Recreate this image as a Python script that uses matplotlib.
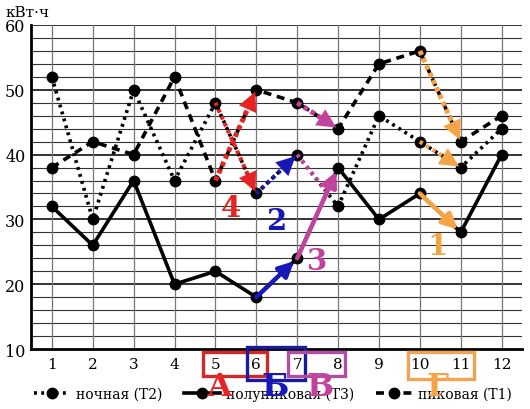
import matplotlib
matplotlib.use("Agg")
import matplotlib.pyplot as plt
from matplotlib.lines import Line2D
from matplotlib.patches import Rectangle

months = list(range(1, 13))
night_T2 = [52, 30, 50, 36, 48, 34, 40, 32, 46, 42, 38, 44]
half_T3 = [32, 26, 36, 20, 22, 18, 24, 38, 30, 34, 28, 40]
peak_T1 = [38, 42, 40, 52, 36, 50, 48, 44, 54, 56, 42, 46]
series_labels = ["ночная (Т2)", "полупиковая (Т3)", "пиковая (Т1)"]
y_ticks = [10, 20, 30, 40, 50, 60]
unit_label = "кВт·ч"

# highlighted segments: (series, start month, colour group)
arrow_segments = [
    ("peak", 5, "red"), ("night", 5, "red"),
    ("night", 6, "blue"), ("half", 6, "blue"),
    ("peak", 7, "magenta"), ("night", 7, "magenta"), ("half", 7, "magenta"),
    ("peak", 10, "orange"), ("night", 10, "orange"), ("half", 10, "orange"),
]
group_numbers = {"orange": "1", "blue": "2", "magenta": "3", "red": "4"}
group_letters = {"red": "А", "blue": "Б", "magenta": "В", "orange": "Г"}

colors = {"red": "#e82323", "blue": "#1818b8", "magenta": "#c2439e", "orange": "#f5a445"}
series = {"night": night_T2, "half": half_T3, "peak": peak_T1}
styles = {"night": (0, (0.8, 1.2)), "half": "-", "peak": (0, (2.2, 1.6))}

plt.rcParams['font.family'] = ['DejaVu Serif']

fig = plt.figure(figsize=(5.3, 4.1), dpi=100)
ax = fig.add_axes([0.0585, 0.1463, 0.9265, 0.7903])
ax.set_xlim(0.49, 12.5)
ax.set_ylim(10, 60)

# grid
for yv in range(12, 61, 2):
    ax.axhline(yv, color="#111111" if yv % 10 == 0 else "#333333",
               lw=1.2 if yv % 10 == 0 else 0.8, zorder=1)
for m in months:
    ax.axvline(m, color="#777777", lw=0.9, zorder=1)

for s in ["right", "top"]:
    ax.spines[s].set_visible(False)
ax.spines["left"].set_linewidth(2)
ax.spines["bottom"].set_linewidth(2)

ax.set_yticks(y_ticks)
ax.set_xticks(months)
ax.tick_params(length=0, labelsize=11.5, pad=4)
ax.tick_params(axis="x", pad=6, labelsize=11)

for key in ["night", "half", "peak"]:
    ax.plot(months, series[key], color="black", lw=2.6, linestyle=styles[key],
            marker="o", markersize=7.5, zorder=3)

# coloured arrows
for key, m, grp in arrow_segments:
    vals = series[key]
    x0, y0 = m, vals[m - 1]
    x1, y1 = m + 1, vals[m]
    c = colors[grp]
    if key == "half":
        ax.annotate("", xy=(x1, y1), xytext=(x0, y0),
                    arrowprops=dict(arrowstyle="-|>,head_length=0.9,head_width=0.45",
                                    color=c, lw=3.2, shrinkA=0, shrinkB=3),
                    zorder=4)
    else:
        # dotted shaft
        fx = x0 + (x1 - x0) * 0.8
        fy = y0 + (y1 - y0) * 0.8
        ax.plot([x0, fx], [y0, fy], color=c, lw=3.6 if key == "peak" else 3.0,
                linestyle=(0, (0.9, 0.7)) if key == "peak" else (0, (0.8, 1.0)), zorder=4)
        show_head = not (key == "night" and m == 7)
        if show_head:
            sx = x0 + (x1 - x0) * 0.55
            sy = y0 + (y1 - y0) * 0.55
            ax.annotate("", xy=(x1, y1), xytext=(sx, sy),
                        arrowprops=dict(arrowstyle="-|>,head_length=0.85,head_width=0.42",
                                        color=c, lw=0.1, shrinkA=0, shrinkB=1.5,
                                        mutation_scale=16),
                        zorder=4)

num_pos = {"4": (5.39, 31.9), "2": (6.49, 29.8), "3": (7.5, 23.6), "1": (10.44, 26.0)}
for grp, num in group_numbers.items():
    x, y = num_pos[num]
    ax.text(x, y, num, color=colors[grp], fontsize=21, fontweight="bold",
            ha="center", va="center", zorder=5)

# boxes under tick labels
box_coords = {
    "red": (4.70, 5.85, 6.27, 9.55, "#d42828"),
    "blue": (5.78, 5.25, 7.20, 10.3, "#1a1a9c"),
    "magenta": (6.78, 5.85, 8.18, 9.55, "#b24ea2"),
    "orange": (9.70, 5.4, 11.32, 9.55, "#f0a452"),
}
for grp, (xa, ya, xb, yb, c) in box_coords.items():
    ax.add_patch(Rectangle((xa, ya), xb - xa, yb - ya, fill=False, edgecolor=c,
                           lw=2.4, clip_on=False, zorder=6))

fig.text(0.01, 0.985, unit_label, fontsize=11, va="top", ha="left")

handles = [Line2D([], [], color="black", lw=2.6, linestyle=styles[k], marker="o", markersize=7.5)
           for k in ["night", "half", "peak"]]
leg = fig.legend(handles, series_labels, loc="center", bbox_to_anchor=(0.515, 0.037), ncol=3,
                 frameon=False, fontsize=10, handlelength=2.6, columnspacing=1.6,
                 handletextpad=0.4, numpoints=1)

letter_x = {"red": 220, "blue": 275, "magenta": 320, "orange": 438}
for grp, letter in group_letters.items():
    t = fig.text(letter_x[grp] / 530, 1 - 388 / 410, letter, color=colors[grp], fontsize=23,
                 fontweight="bold", ha="center", va="center")
    t.set_zorder(10)

fig.savefig("out.png", dpi=100)
